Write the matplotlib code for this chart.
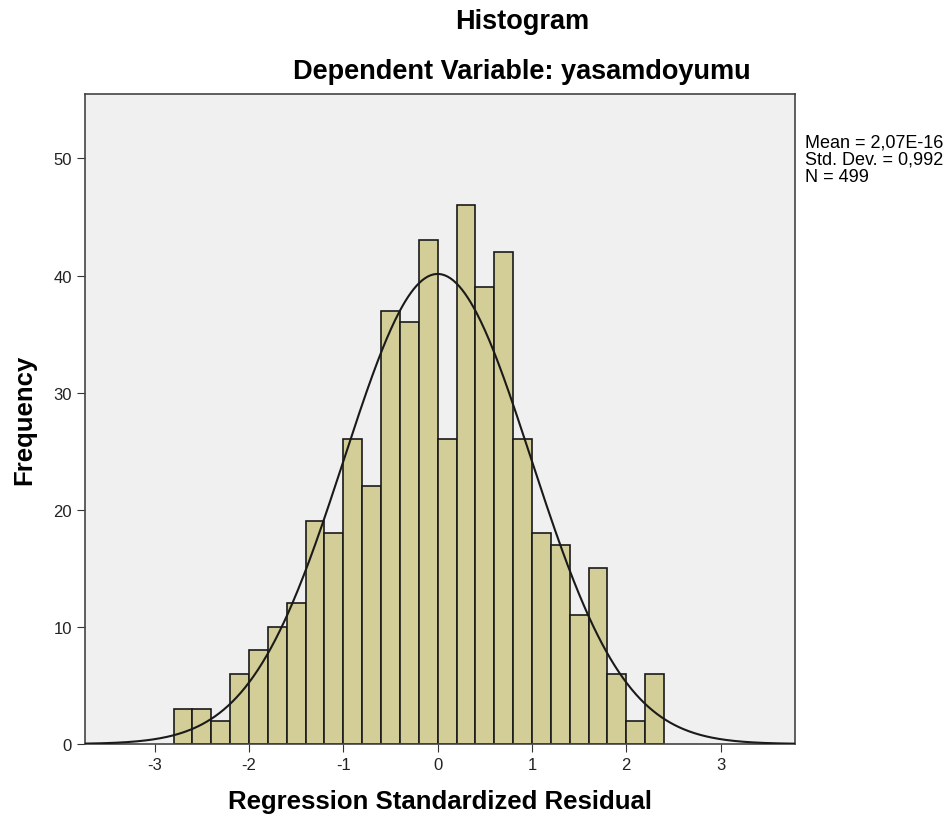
import matplotlib.pyplot as plt
import numpy as np

plt.rcParams['font.family'] = ['Liberation Sans', 'DejaVu Sans']

# histogram bins (left edges) and counts
bin_width = 0.2
bin_start = -2.8
counts = [3, 3, 2, 6, 8, 10, 12, 19, 18, 26, 22, 37, 36, 43, 26,
          46, 39, 42, 26, 18, 17, 11, 15, 6, 2, 6]
mean = 2.07e-16
sd = 0.992
n = 499
stats_text = "Mean = 2,07E-16\nStd. Dev. = 0,992\nN = 499"

W, H = 952, 828
fig = plt.figure(figsize=(W / 100, H / 100), dpi=100)
ax = fig.add_axes([85 / W, 1 - 745 / H, (795 - 85) / W, (745 - 95) / H])
ax.set_facecolor('#F0F0F0')

edges = bin_start + bin_width * np.arange(len(counts))
ax.bar(edges, counts, width=bin_width, align='edge',
       color='#D3CE97', edgecolor='#1a1a1a', linewidth=1.2, zorder=2)

x = np.linspace(-3.75, 3.8, 500)
y = n * bin_width * np.exp(-0.5 * ((x - mean) / sd) ** 2) / (sd * np.sqrt(2 * np.pi))
ax.plot(x, y, color='#1a1a1a', linewidth=1.5, zorder=3)

ax.set_xlim(-3.74, 3.79)
ax.set_ylim(0, 55.5)
ax.set_xticks([-3, -2, -1, 0, 1, 2, 3])
ax.set_xticklabels(['-3', '-2', '-1', '0', '1', '2', '3'])
ax.set_yticks([0, 10, 20, 30, 40, 50])
ax.tick_params(labelsize=12, length=6, color='#333333', labelcolor='#222222')
for s in ax.spines.values():
    s.set_color('#444444')
    s.set_linewidth(1.2)

ax.set_xlabel('Regression Standardized Residual', fontsize=18.5, fontweight='bold', labelpad=12)
ax.set_ylabel('Frequency', fontsize=18.5, fontweight='bold', labelpad=12)

fig.text(522 / W, 1 - 22 / H, 'Histogram', fontsize=19.5, fontweight='bold', ha='center', va='center')
fig.text(522 / W, 1 - 72 / H, 'Dependent Variable: yasamdoyumu', fontsize=19.5,
         fontweight='bold', ha='center', va='center')
fig.text(805 / W, 1 - 134 / H, stats_text, fontsize=13, ha='left', va='top', linespacing=1.05)

fig.savefig('out.png', dpi=100, facecolor='white')
